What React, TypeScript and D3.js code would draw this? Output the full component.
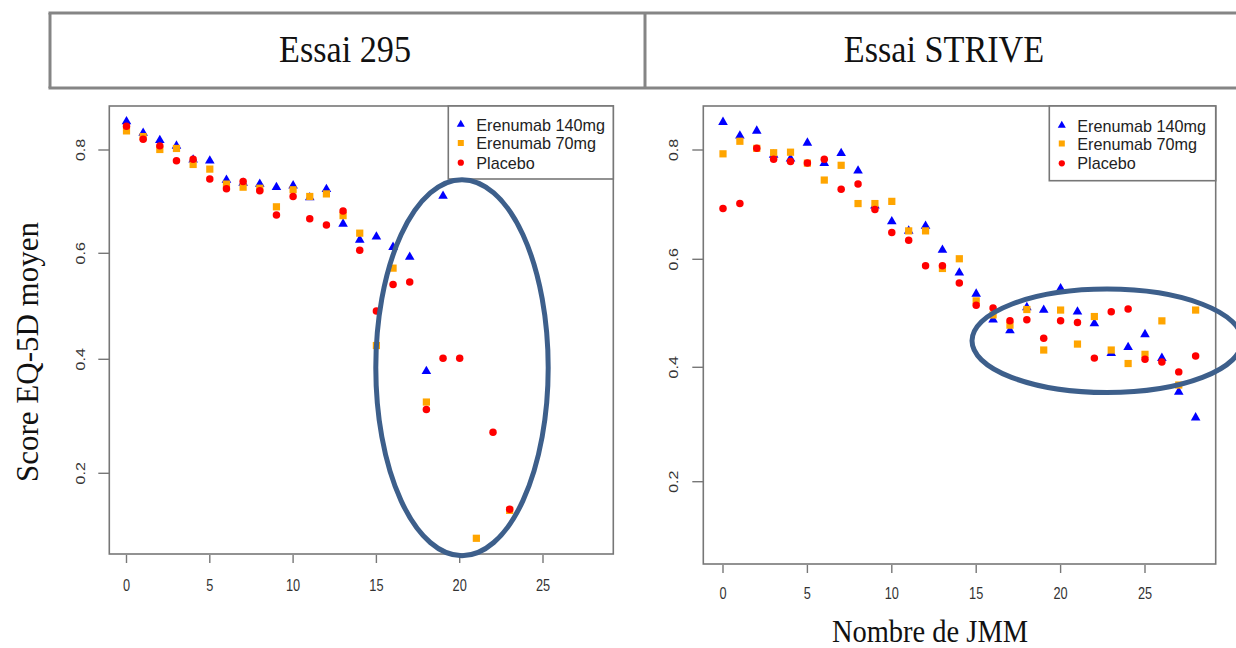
import React from "react";
import * as d3 from "d3";

// ---------- DATA ----------
const weeks295 = [0, 1, 2, 3, 4, 5, 6, 7, 8, 9, 10, 11, 12, 13, 14, 15, 16, 17, 18, 19, 20, 21, 22, 23];
const e140_295: (number | null)[] = [0.855, 0.833, 0.819, 0.808, 0.781, 0.779, 0.742, 0.736, 0.734, 0.728, 0.731, 0.708, 0.724, 0.657, 0.626, 0.632, 0.612, 0.593, 0.379, 0.711, null, null, null, null];
const e70_295: (number | null)[] = [0.837, 0.826, 0.801, 0.803, 0.772, 0.763, 0.734, 0.728, 0.726, 0.690, 0.723, 0.710, 0.715, 0.673, 0.639, 0.426, 0.572, null, 0.325, null, null, 0.086, null, 0.135];
const pbo_295: (number | null)[] = [0.846, 0.821, 0.808, 0.779, 0.782, 0.744, 0.725, 0.739, 0.721, 0.674, 0.710, 0.667, 0.655, 0.682, 0.606, 0.491, 0.541, 0.546, 0.312, 0.402, 0.402, null, 0.272, 0.137];

const weeksStrive = [0, 1, 2, 3, 4, 5, 6, 7, 8, 9, 10, 11, 12, 13, 14, 15, 16, 17, 18, 19, 20, 21, 22, 23, 24, 25, 26, 27, 28];
const e140_strive: (number | null)[] = [0.851, 0.826, 0.835, 0.791, 0.784, 0.813, 0.776, 0.794, 0.762, 0.698, 0.669, 0.652, 0.661, 0.617, 0.575, 0.536, 0.488, 0.468, 0.511, 0.506, 0.546, 0.503, 0.481, 0.426, 0.437, 0.461, 0.417, 0.357, 0.312];
const e70_strive: (number | null)[] = [0.793, 0.816, 0.803, 0.795, 0.796, 0.776, 0.745, 0.772, 0.702, 0.702, 0.706, 0.652, 0.652, 0.583, 0.601, 0.523, 0.497, 0.478, 0.507, 0.432, 0.506, 0.443, 0.494, 0.432, 0.407, 0.424, 0.486, 0.369, 0.506];
const pbo_strive: (number | null)[] = [0.693, 0.702, 0.803, 0.783, 0.779, 0.776, 0.783, 0.728, 0.738, 0.691, 0.649, 0.635, 0.588, 0.588, 0.556, 0.515, 0.510, 0.486, 0.488, 0.454, 0.486, 0.483, 0.417, 0.503, 0.508, 0.415, 0.410, 0.392, 0.421];

const seriesNames = ["Erenumab 140mg", "Erenumab 70mg", "Placebo"];
const xTicks = [0, 5, 10, 15, 20, 25];
const yTicks = [0.2, 0.4, 0.6, 0.8];
const panelTitles = ["Essai 295", "Essai STRIVE"];
const yTitle = "Score EQ-5D moyen";
const xTitle = "Nombre de JMM";

// ---------- STYLE ----------
const colors = ["#0000ff", "#ffa500", "#ff0000"];
const symbols = [d3.symbolTriangle, d3.symbolSquare, d3.symbolCircle];
const symSizes = [40, 52, 44];
const axisColor = "#777";
const ellipseColor = "#3d5f8b";

type Panel = {
  weeks: number[];
  series: (number | null)[][];
  box: { x0: number; x1: number; y0: number; y1: number };
  xRange: [number, number];
  yRange: number[];
  legend: { x0: number; y1: number; rows: number[] };
  tickLabelY: number;
  yLabelX: number;
  ellipse: { cx: number; cy: number; rx: number; ry: number };
};

const panels: Panel[] = [
  {
    weeks: weeks295,
    series: [e140_295, e70_295, pbo_295],
    box: { x0: 109.3, x1: 613.3, y0: 106, y1: 554 },
    xRange: [126.5, 543],
    yRange: [473.3, 359.3, 253.3, 150],
    legend: { x0: 448.3, y1: 179, rows: [124.5, 143, 162.7] },
    tickLabelY: 585,
    yLabelX: 81,
    ellipse: { cx: 462, cy: 367.7, rx: 86.2, ry: 188 },
  },
  {
    weeks: weeksStrive,
    series: [e140_strive, e70_strive, pbo_strive],
    box: { x0: 703.3, x1: 1215.7, y0: 106, y1: 564 },
    xRange: [723, 1145],
    yRange: [481.7, 367.3, 259.3, 150],
    legend: { x0: 1049.3, y1: 180.7, rows: [125.5, 143.5, 163.3] },
    tickLabelY: 593,
    yLabelX: 674,
    ellipse: { cx: 1107, cy: 340.8, rx: 135, ry: 51.7 },
  },
];

function PanelView({ p }: { p: Panel }) {
  const x = d3.scaleLinear().domain([0, 25]).range(p.xRange);
  const y = d3.scaleLinear().domain(yTicks).range(p.yRange);
  const { box, legend } = p;
  return (
    <g>
      <rect x={box.x0} y={box.y0} width={box.x1 - box.x0} height={box.y1 - box.y0} fill="none" stroke={axisColor} strokeWidth={1.6} />
      {xTicks.map((t) => (
        <g key={"xt" + t}>
          <line x1={x(t)} x2={x(t)} y1={box.y1 + 1} y2={box.y1 + 9} stroke={axisColor} strokeWidth={1.4} />
          <text
            transform={`translate(${x(t)},${p.tickLabelY}) scale(0.75,1)`}
            textAnchor="middle"
            dominantBaseline="central"
            fontFamily="Liberation Sans, Arial, sans-serif"
            fontSize={17}
            fill="#333"
          >
            {t}
          </text>
        </g>
      ))}
      {yTicks.map((t) => (
        <g key={"yt" + t}>
          <line x1={box.x0 - 11} x2={box.x0} y1={y(t)} y2={y(t)} stroke={axisColor} strokeWidth={1.4} />
          <text
            transform={`translate(${p.yLabelX},${y(t)}) rotate(-90) scale(1,0.8)`}
            textAnchor="middle"
            dominantBaseline="central"
            fontFamily="Liberation Sans, Arial, sans-serif"
            fontSize={16}
            fill="#333"
          >
            {t.toFixed(1)}
          </text>
        </g>
      ))}
      {p.series.map((s, si) => (
        <g key={"s" + si} fill={colors[si]}>
          {s.map((v, i) =>
            v === null ? null : (
              <path
                key={i}
                d={d3.symbol().type(symbols[si]).size(symSizes[si])() as string}
                transform={`translate(${x(p.weeks[i])},${y(v)})`}
              />
            )
          )}
        </g>
      ))}
      <rect x={legend.x0} y={box.y0} width={box.x1 - legend.x0} height={legend.y1 - box.y0} fill="white" stroke={axisColor} strokeWidth={1.6} />
      {seriesNames.map((n, i) => (
        <g key={"lg" + i}>
          <path
            d={d3.symbol().type(symbols[i]).size(symSizes[i] * 0.7)() as string}
            transform={`translate(${legend.x0 + 12.5},${legend.rows[i]})`}
            fill={colors[i]}
          />
          <text
            x={legend.x0 + 28}
            y={legend.rows[i]}
            dominantBaseline="central"
            fontFamily="Liberation Sans, Arial, sans-serif"
            fontSize={16.2}
            fill="#222"
          >
            {n}
          </text>
        </g>
      ))}
      <ellipse cx={p.ellipse.cx} cy={p.ellipse.cy} rx={p.ellipse.rx} ry={p.ellipse.ry} fill="none" stroke={ellipseColor} strokeWidth={5} />
    </g>
  );
}

export default function App() {
  return (
    <svg width={1236} height={648} style={{ position: "absolute", left: 0, top: 0, background: "white" }}>
      <rect x={0} y={0} width={1236} height={648} fill="white" />
      <g stroke="#858585" strokeWidth={3} fill="none">
        <line x1={48.5} x2={1236} y1={13} y2={13} />
        <line x1={48.5} x2={1236} y1={88} y2={88} />
        <line x1={50} x2={50} y1={13} y2={88} />
        <line x1={645} x2={645} y1={13} y2={88} />
      </g>
      <text transform="translate(345,62) scale(0.95,1.05)" textAnchor="middle" fontFamily="Liberation Serif, Times New Roman, serif" fontSize={36} fill="#111">
        {panelTitles[0]}
      </text>
      <text transform="translate(944,62) scale(0.95,1.05)" textAnchor="middle" fontFamily="Liberation Serif, Times New Roman, serif" fontSize={36} fill="#111">
        {panelTitles[1]}
      </text>
      {panels.map((p, i) => (
        <PanelView key={i} p={p} />
      ))}
      <text
        transform="translate(27,352) rotate(-90)"
        textAnchor="middle"
        dominantBaseline="central"
        fontFamily="Liberation Serif, Times New Roman, serif"
        fontSize={31}
        fill="#111"
      >
        {yTitle}
      </text>
      <text transform="translate(930,642) scale(0.95,1.08)" textAnchor="middle" fontFamily="Liberation Serif, Times New Roman, serif" fontSize={30} fill="#111">
        {xTitle}
      </text>
    </svg>
  );
}
